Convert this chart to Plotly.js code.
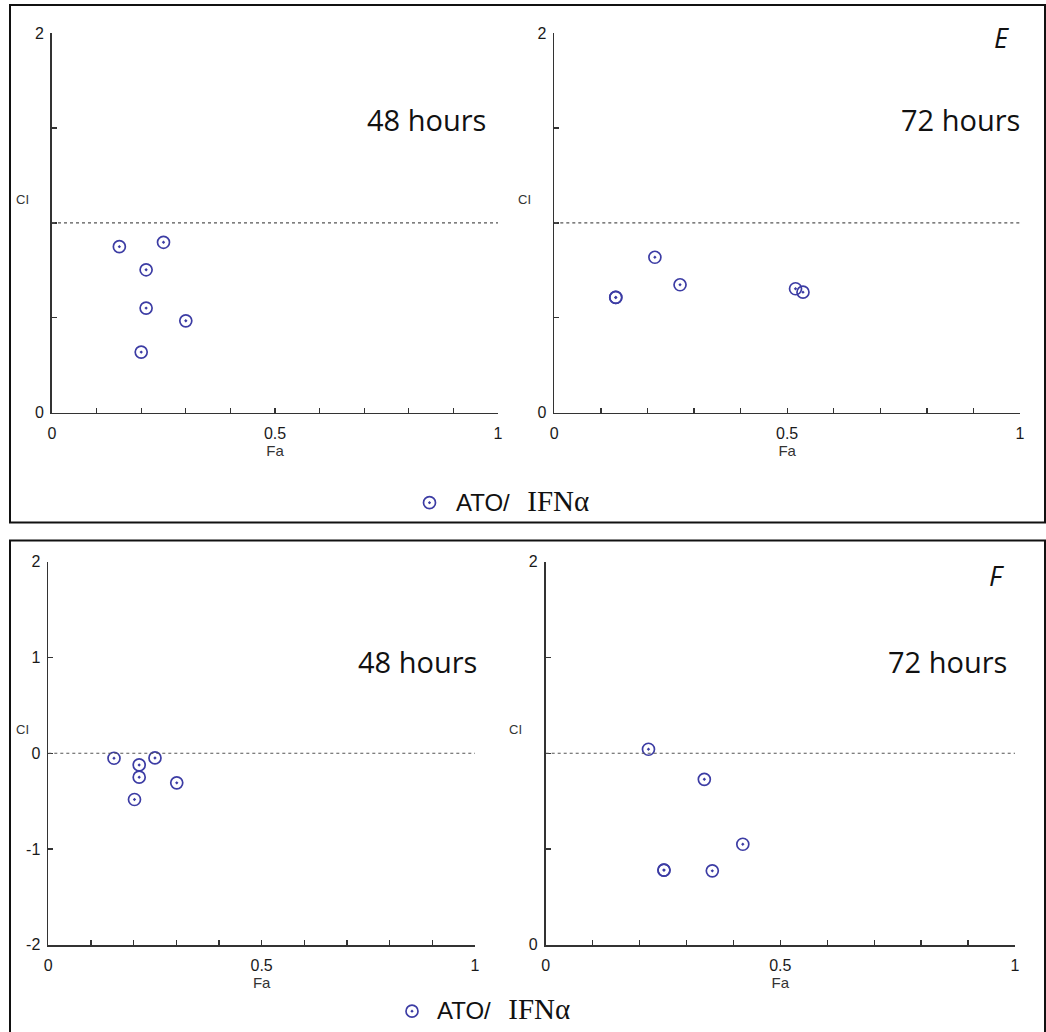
<!DOCTYPE html>
<html>
<head>
<meta charset="utf-8">
<script src="https://cdn.plot.ly/plotly-3.0.1.min.js"></script>
<style>html,body{margin:0;padding:0;background:#fff;}</style>
</head>
<body>
<div id="chart" style="width:1046px;height:1032px;"></div>
<script>
// ---- data ----
const seriesName = '<span style="font-size:24px">ATO/</span>&nbsp;&nbsp; <span style="font-family:Liberation Serif;font-size:29px">IFNα</span>';
const panelLabels = ['E', 'F'];
const timeLabels = ['48 hours', '72 hours', '48 hours', '72 hours'];

const topLeftFa  = [0.151, 0.250, 0.211, 0.211, 0.300, 0.200];
const topLeftCI  = [0.875, 0.898, 0.753, 0.551, 0.484, 0.319];
const topRightFa = [0.132, 0.132, 0.216, 0.270, 0.518, 0.534];
const topRightCI = [0.607, 0.607, 0.819, 0.674, 0.653, 0.635];
const botLeftFa  = [0.154, 0.250, 0.213, 0.213, 0.301, 0.202];
const botLeftCI  = [-0.052, -0.049, -0.122, -0.250, -0.309, -0.483];
const botRightFa = [0.219, 0.338, 0.420, 0.252, 0.252, 0.355];
const botRightCI = [1.021, 0.864, 0.525, 0.390, 0.390, 0.386];

const refLines = [1, 1, 0, 1];

const xTickVals = [0, 0.1, 0.2, 0.3, 0.4, 0.5, 0.6, 0.7, 0.8, 0.9, 1];
const xTickText = ['0', '', '', '', '', '0.5', '', '', '', '', '1'];
const yTickValsA = [0, 0.5, 1, 1.5, 2];
const yTickTextA = ['0', '', '', '', '2'];
const yTickValsB = [-2, -1, 0, 1, 2];
const yTickTextB = ['-2', '-1', '0', '1', '2'];
const yRangeA = [0, 2];
const yRangeB = [-2, 2];
const xRange = [0, 1];

// ---- layout helpers (pixel geometry) ----
const W = 1046, H = 1032;
const px = v => v / W;
const py = v => 1 - v / H;

const markerStyle = {symbol: 'circle-open-dot', size: 12, color: '#3c3ca4', line: {width: 1.7, color: '#3c3ca4'}};

const traces = [
  {x: topLeftFa, y: topLeftCI, xaxis: 'x', yaxis: 'y', legend: 'legend'},
  {x: topRightFa, y: topRightCI, xaxis: 'x2', yaxis: 'y2', showlegend: false},
  {x: botLeftFa, y: botLeftCI, xaxis: 'x3', yaxis: 'y3', legend: 'legend2'},
  {x: botRightFa, y: botRightCI, xaxis: 'x4', yaxis: 'y4', showlegend: false}
].map(t => Object.assign({type: 'scatter', mode: 'markers', name: seriesName, marker: markerStyle, cliponaxis: false, showlegend: true}, t));

const tickFont = {family: 'Liberation Sans, Arial, sans-serif', size: 16, color: '#1a1a1a'};

function xAxis(d, anchor) {
  return {domain: d, anchor: anchor, range: xRange, tickmode: 'array', tickvals: xTickVals, ticktext: xTickText,
    ticks: 'inside', ticklen: 5, tickwidth: 1.3, tickcolor: '#333', showline: true, linecolor: '#333', linewidth: 1.8,
    showgrid: false, zeroline: false, tickfont: tickFont, ticklabelstandoff: 5, fixedrange: true,
    title: {text: 'Fa', font: {family: 'Liberation Sans, Arial, sans-serif', size: 15, color: '#333'}, standoff: 3}};
}
function yAxis(d, anchor, vals, text, range) {
  return {domain: d, anchor: anchor, range: range, tickmode: 'array', tickvals: vals, ticktext: text,
    ticks: 'inside', ticklen: 5, tickwidth: 1.3, tickcolor: '#333', showline: true, linecolor: '#333', linewidth: 1.8,
    showgrid: false, zeroline: false, tickfont: tickFont, ticklabelstandoff: 3, fixedrange: true};
}

const yTop = [py(413), py(33.3)];
const yBot = [py(945.7), py(562.3)];

const shapes = [
  {type: 'rect', xref: 'paper', yref: 'paper', x0: px(10), x1: px(1045), y0: py(523), y1: py(5), line: {color: '#111', width: 2}},
  {type: 'rect', xref: 'paper', yref: 'paper', x0: px(10), x1: px(1045), y0: py(1040), y1: py(541), line: {color: '#111', width: 2}}
];
['', '2', '3', '4'].forEach((s, i) => {
  shapes.push({type: 'line', xref: 'x' + s, yref: 'y' + s, x0: xRange[0], x1: xRange[1], y0: refLines[i], y1: refLines[i],
    line: {color: '#555', width: 1.2, dash: 'dot'}});
});

const hoursFont = {family: 'Open Sans, Noto Sans, sans-serif', size: 29, color: '#111'};
const letterFont = {family: 'Open Sans, Noto Sans, sans-serif', size: 27, color: '#111'};
const ciFont = {family: 'Liberation Sans, Arial, sans-serif', size: 13, color: '#333'};

const annotations = [
  {text: timeLabels[0], x: px(488), y: py(120), xanchor: 'right', yanchor: 'middle', font: hoursFont},
  {text: timeLabels[1], x: px(1022), y: py(120), xanchor: 'right', yanchor: 'middle', font: hoursFont},
  {text: timeLabels[2], x: px(479), y: py(662), xanchor: 'right', yanchor: 'middle', font: hoursFont},
  {text: timeLabels[3], x: px(1009), y: py(662), xanchor: 'right', yanchor: 'middle', font: hoursFont},
  {text: '<i>' + panelLabels[0] + '</i>', x: px(1011), y: py(38), xanchor: 'right', yanchor: 'middle', font: letterFont},
  {text: '<i>' + panelLabels[1] + '</i>', x: px(1006), y: py(576), xanchor: 'right', yanchor: 'middle', font: letterFont},
  {text: 'CI', x: px(14), y: py(200), xanchor: 'left', yanchor: 'middle', font: ciFont},
  {text: 'CI', x: px(516), y: py(200), xanchor: 'left', yanchor: 'middle', font: ciFont},
  {text: 'CI', x: px(14), y: py(730), xanchor: 'left', yanchor: 'middle', font: ciFont},
  {text: 'CI', x: px(507), y: py(730), xanchor: 'left', yanchor: 'middle', font: ciFont}
].map(a => Object.assign({xref: 'paper', yref: 'paper', showarrow: false}, a));

const legendFont = {family: 'Liberation Sans, Arial, sans-serif', size: 21, color: '#111'};

const layout = {
  width: W, height: H,
  margin: {l: 0, r: 0, t: 0, b: 0},
  paper_bgcolor: '#fff', plot_bgcolor: '#fff',
  font: {family: 'Liberation Sans, Arial, sans-serif'},
  xaxis: xAxis([px(52), px(498)], 'y'),
  yaxis: yAxis(yTop, 'x', yTickValsA, yTickTextA, yRangeA),
  xaxis2: xAxis([px(554.3), px(1020)], 'y2'),
  yaxis2: yAxis(yTop, 'x2', yTickValsA, yTickTextA, yRangeA),
  xaxis3: xAxis([px(48.3), px(475)], 'y3'),
  yaxis3: yAxis(yBot, 'x3', yTickValsB, yTickTextB, yRangeB),
  xaxis4: xAxis([px(545.7), px(1015)], 'y4'),
  yaxis4: yAxis(yBot, 'x4', yTickValsA, yTickTextA, yRangeA),
  legend: {x: px(403), y: py(503), xanchor: 'left', yanchor: 'middle', font: legendFont, bgcolor: 'rgba(0,0,0,0)', borderwidth: 0, itemwidth: 43},
  legend2: {x: px(387), y: py(1012), xanchor: 'left', yanchor: 'middle', font: legendFont, bgcolor: 'rgba(0,0,0,0)', borderwidth: 0, itemwidth: 40},
  shapes: shapes,
  annotations: annotations,
  showlegend: true
};

Plotly.newPlot('chart', traces, layout, {displayModeBar: false, staticPlot: true});
</script>
</body>
</html>
